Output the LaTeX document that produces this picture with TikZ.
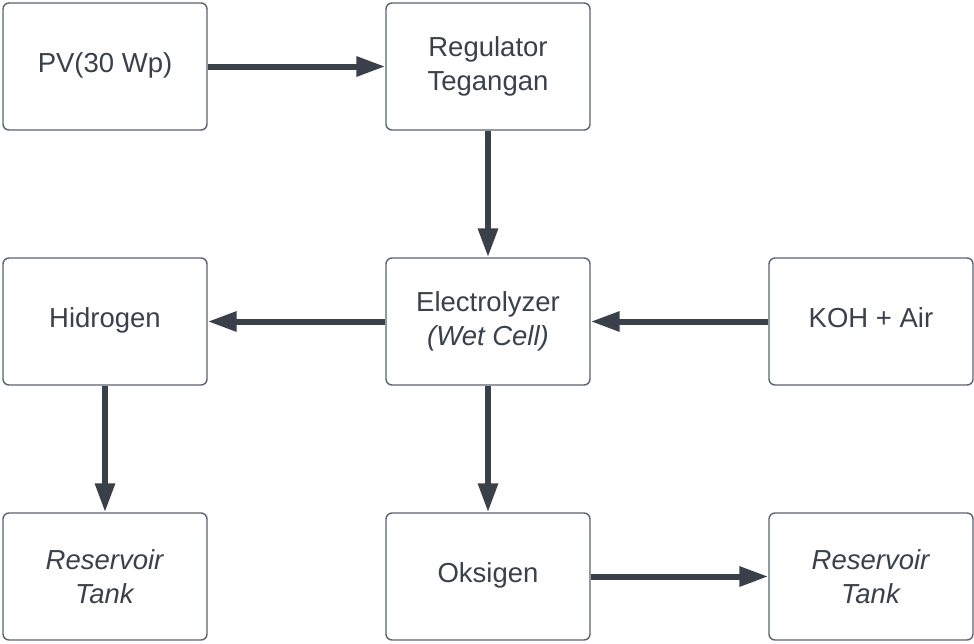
\documentclass[tikz,border=0pt]{standalone}
\usepackage{fontspec}
\setmainfont{Liberation Sans}
\usetikzlibrary{arrows.meta}
\definecolor{txt}{HTML}{3A414A}
\definecolor{bord}{HTML}{5C6370}
\definecolor{arr}{HTML}{3A404A}
\tikzset{
  blk/.style={draw=bord, line width=1.4pt, fill=white, rounded corners=6pt,
    minimum width=204pt, minimum height=127pt, inner sep=0pt, align=center,
    text=txt, font=\fontsize{27.5pt}{34pt}\selectfont},
  oneline/.style={text height=20pt, text depth=9pt},
  conn/.style={draw=arr, line width=6pt, -{Triangle[length=29pt,width=19pt]}}
}
\begin{document}
\begin{tikzpicture}[x=1pt,y=-1pt]
\useasboundingbox (0,0) rectangle (974,643);
\node[blk,oneline] (pv)  at (105,66.5) {PV(30 Wp)};
\node[blk] (reg) at (488,66.5) {Regulator\\Tegangan};
\node[blk,oneline] (hid) at (105,321.5) {Hidrogen};
\node[blk] (ele) at (488,321.5) {Electrolyzer\\\textit{(Wet Cell)}};
\node[blk,oneline] (koh) at (871,321.5) {KOH + Air};
\node[blk] (rl)  at (105,576.5) {\textit{Reservoir}\\\textit{Tank}};
\node[blk,oneline] (oks) at (488,576.5) {Oksigen};
\node[blk] (rr)  at (871,576.5) {\textit{Reservoir}\\\textit{Tank}};
\draw[conn] (pv) -- (reg);
\draw[conn] (reg) -- (ele);
\draw[conn] (ele) -- (hid);
\draw[conn] (koh) -- (ele);
\draw[conn] (hid) -- (rl);
\draw[conn] (ele) -- (oks);
\draw[conn] (oks) -- (rr);
\end{tikzpicture}
\end{document}
